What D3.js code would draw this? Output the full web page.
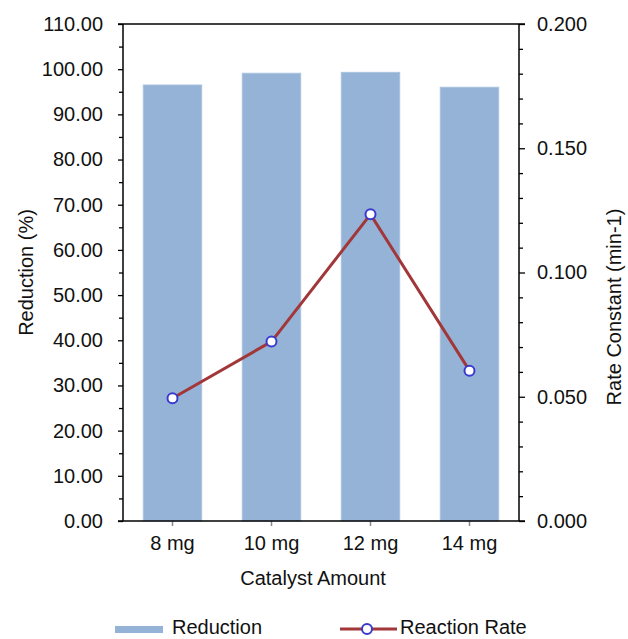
<!DOCTYPE html>
<html>
<head>
<meta charset="utf-8">
<script src="https://cdn.jsdelivr.net/npm/d3@7"></script>
<style>
  html, body { margin: 0; padding: 0; background: #fff; }
  svg { display: block; font-family: "Liberation Sans", Arial, sans-serif; }
</style>
</head>
<body>
<svg id="chart" width="628" height="639"></svg>
<script>
// ---- data ----
const categories = ["8 mg", "10 mg", "12 mg", "14 mg"];
const reduction = [96.5, 99.1, 99.3, 96.0];
const reactionRate = [0.0494, 0.0722, 0.1234, 0.0605];
const leftTicks = [0, 10, 20, 30, 40, 50, 60, 70, 80, 90, 100, 110];
const leftMinorTicks = [5, 15, 25, 35, 45, 55, 65, 75, 85, 95, 105];
const rightTicks = [0, 0.05, 0.1, 0.15, 0.2];
const rightMinorTicks = [0.01, 0.02, 0.03, 0.04, 0.06, 0.07, 0.08, 0.09, 0.11, 0.12, 0.13, 0.14, 0.16, 0.17, 0.18, 0.19];
const xTitle = "Catalyst Amount";
const yLeftTitle = "Reduction (%)";
const yRightTitle = "Rate Constant (min-1)";
const legendLabels = ["Reduction", "Reaction Rate"];

// ---- layout ----
const L = 123, R = 519, T = 24, B = 521;
const fontSize = 20;
const svg = d3.select("#chart");

const x = d3.scaleBand().domain(categories).range([L, R]).paddingInner(0.41).paddingOuter(0.205);
const yL = d3.scaleLinear().domain([0, 110]).range([B, T]);
const yR = d3.scaleLinear().domain([0, 0.2]).range([B, T]);

// bars
svg.append("g").selectAll("rect").data(reduction).join("rect")
  .attr("x", (d, i) => x(categories[i]))
  .attr("y", d => yL(d))
  .attr("width", x.bandwidth())
  .attr("height", d => yL(0) - yL(d))
  .attr("fill", "#95b3d7")
  .attr("stroke", "#a9c2df")
  .attr("stroke-width", 1);

// axes
function styleAxis(g) {
  g.select(".domain").remove();
  g.selectAll(".tick line").attr("stroke", "#000").attr("stroke-width", 1.3);
  g.selectAll(".tick text").attr("font-size", fontSize).attr("fill", "#111").attr("font-family", "Liberation Sans, Arial, sans-serif");
}

// left axis
svg.append("g").attr("transform", `translate(${L},0)`)
  .call(d3.axisLeft(yL).tickValues(leftMinorTicks).tickSize(4).tickFormat(""))
  .call(styleAxis);
svg.append("g").attr("transform", `translate(${L},0)`)
  .call(d3.axisLeft(yL).tickValues(leftTicks).tickSize(5).tickPadding(15).tickFormat(d3.format(".2f")))
  .call(styleAxis);

// right axis
svg.append("g").attr("transform", `translate(${R},0)`)
  .call(d3.axisRight(yR).tickValues(rightMinorTicks).tickSize(4).tickFormat(""))
  .call(styleAxis);
svg.append("g").attr("transform", `translate(${R},0)`)
  .call(d3.axisRight(yR).tickValues(rightTicks).tickSize(6).tickPadding(12).tickFormat(d3.format(".3f")))
  .call(styleAxis);

// bottom axis
const xAxis = svg.append("g").attr("transform", `translate(0,${B})`)
  .call(d3.axisBottom(x).tickSize(5).tickPadding(10))
  .call(styleAxis);
xAxis.selectAll(".tick line").attr("stroke", "#888").attr("stroke-width", 1.5);

// frame lines
const frame = svg.append("g").attr("stroke", "#000").attr("stroke-width", 1.5).attr("fill", "none");
frame.append("line").attr("x1", L).attr("x2", L).attr("y1", T).attr("y2", B);
frame.append("line").attr("x1", R).attr("x2", R).attr("y1", T).attr("y2", B);
frame.append("line").attr("x1", L - 5).attr("x2", R + 6).attr("y1", B).attr("y2", B);
frame.append("line").attr("x1", L - 5).attr("x2", R + 6).attr("y1", T).attr("y2", T);

// line series
const cx = (d, i) => x(categories[i]) + x.bandwidth() / 2;
const line = d3.line().x(cx).y(d => yR(d));
svg.append("path").datum(reactionRate)
  .attr("d", line)
  .attr("fill", "none")
  .attr("stroke", "#a2373a")
  .attr("stroke-width", 3);
svg.append("g").selectAll("circle").data(reactionRate).join("circle")
  .attr("cx", cx)
  .attr("cy", d => yR(d))
  .attr("r", 5)
  .attr("fill", "#fff")
  .attr("stroke", "#3a3acf")
  .attr("stroke-width", 2);

// titles
svg.append("text").attr("x", (L + R) / 2 - 8).attr("y", 585)
  .attr("text-anchor", "middle").attr("font-size", fontSize).attr("fill", "#111").text(xTitle);
svg.append("text").attr("transform", `translate(33,${(T + B) / 2}) rotate(-90)`)
  .attr("text-anchor", "middle").attr("font-size", fontSize).attr("fill", "#111").text(yLeftTitle);
svg.append("text").attr("transform", `translate(621,307) rotate(-90)`)
  .attr("text-anchor", "middle").attr("font-size", fontSize).attr("fill", "#111").text(yRightTitle);

// legend
const lg = svg.append("g");
lg.append("rect").attr("x", 115).attr("y", 626).attr("width", 48).attr("height", 7).attr("fill", "#95b3d7");
lg.append("text").attr("x", 172).attr("y", 634).attr("font-size", fontSize).attr("fill", "#111").text(legendLabels[0]);
lg.append("line").attr("x1", 340).attr("x2", 397).attr("y1", 629).attr("y2", 629)
  .attr("stroke", "#a2373a").attr("stroke-width", 3);
lg.append("circle").attr("cx", 367).attr("cy", 629).attr("r", 5)
  .attr("fill", "#fff").attr("stroke", "#3a3acf").attr("stroke-width", 2);
lg.append("text").attr("x", 400).attr("y", 634).attr("font-size", fontSize).attr("fill", "#111").text(legendLabels[1]);
</script>
</body>
</html>
